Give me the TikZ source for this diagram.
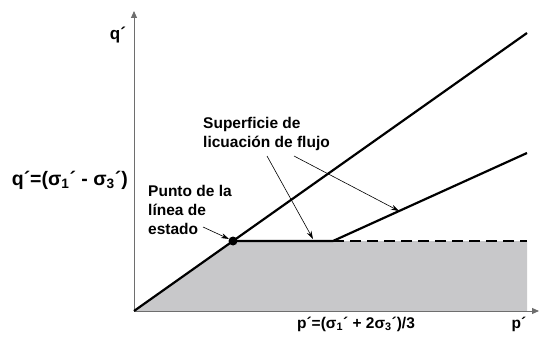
\documentclass[tikz,border=0pt]{standalone}
\usepackage{fontspec}
\setmainfont{Liberation Sans}
\usetikzlibrary{arrows.meta}
\definecolor{fillgray}{RGB}{200,200,202}
\definecolor{axisgray}{RGB}{110,110,110}
\tikzset{
  lbl/.style={font=\fontsize{15.5}{19}\selectfont\bfseries, inner sep=0pt, align=left},
  biglbl/.style={font=\fontsize{19.5}{23}\selectfont\bfseries, inner sep=0pt},
  heavy/.style={line width=2.2pt, black},
  axisline/.style={line width=0.9pt, axisgray, -{Triangle[length=7pt,width=6pt]}},
  pointer/.style={line width=0.6pt, black, -{Stealth[length=8pt,width=5pt]}},
}
\begin{document}
\begin{tikzpicture}[x=1pt,y=-1pt]
\useasboundingbox (0,0) rectangle (539,337);
% key points
\coordinate (O) at (134,311);
\coordinate (Ytop) at (134,11);
\coordinate (Xend) at (539,311);
\coordinate (D) at (233,241);
\coordinate (K) at (333,241);
\coordinate (E1) at (527,33);
\coordinate (E2) at (527,153);
\coordinate (R) at (527,241);
\coordinate (Rb) at (527,311);
% shaded region
\fill[fillgray] (O) -- (D) -- (R) -- (Rb) -- cycle;
% axes
\draw[axisline] (O) -- (Ytop);
\draw[axisline] (O) -- (Xend);
% lines
\draw[heavy] (O) -- (E1);
\draw[heavy] (D) -- (K) -- (E2);
\draw[heavy, dash pattern=on 11pt off 6pt] (K) -- (R);
\node[circle, fill=black, inner sep=0pt, minimum size=9pt] (dot) at (D) {};
% labels
\node[lbl, font=\fontsize{17}{20}\selectfont\bfseries] (qtop) at (118,35) {q´};
\node[biglbl, anchor=east] (qdef) at (128,180) {q´=(σ\textsubscript{1}´ - σ\textsubscript{3}´)};
\node[lbl] (pdef) at (356,324) {p´=(σ\textsubscript{1}´ + 2σ\textsubscript{3}´)/3};
\node[lbl] (pend) at (519,324) {p´};
\node[lbl, anchor=north west] (sup) at (203,117) {Superficie de\\licuación de flujo};
\node[lbl, anchor=north west] (punto) at (148,185) {Punto de la\\línea de\\estado};
% pointer arrows
\coordinate (s1) at (267,156);
\coordinate (t1) at (313,239);
\coordinate (s2) at (294,156);
\coordinate (t2) at (399,211);
\coordinate (s3) at (203,227);
\coordinate (t3) at (229,239);
\draw[pointer] (s1) -- (t1);
\draw[pointer] (s2) -- (t2);
\draw[pointer] (s3) -- (t3);
\end{tikzpicture}
\end{document}
